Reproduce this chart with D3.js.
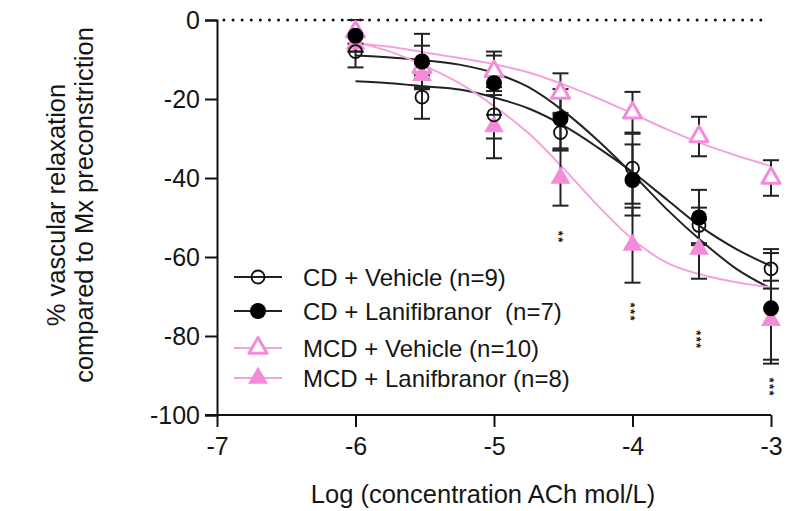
<!DOCTYPE html>
<html>
<head>
<meta charset="utf-8">
<script src="https://cdn.jsdelivr.net/npm/d3@7"></script>
<style>
  body { margin: 0; background: #fff; }
  svg text { font-family: "Liberation Sans", Arial, Helvetica, sans-serif; fill: #161616; }
</style>
</head>
<body>
<script>
// doses (log mol/L) and values
const doses = [-6, -5.52, -5, -4.52, -4, -3.52, -3];

const cdVehMean = [-8, -19.5, -24, -28.5, -37.5, -52, -63];
const cdVehSem = [4, 5.5, 6, 4.5, 9, 4.5, 5];
const cdLaniMean = [-4, -10.5, -16, -25, -40.5, -50, -73];
const cdLaniSem = [4, 7, 8, 7.5, 9, 7, 14];
const mcdVehMean = [-3, -12, -13, -18.5, -23.5, -29.5, -40];
const mcdVehSem = [3, 5.5, 4, 5, 5.3, 5, 4.5];
const mcdLaniMean = [-6, -14, -27, -40, -57, -58, -76];
const mcdLaniSem = [2, 3, 8, 7, 9.5, 7.5, 10];

// fitted curves
const curveX = [-6, -5.75, -5.5, -5.25, -5, -4.75, -4.5, -4.25, -4, -3.75, -3.5, -3.25, -3];
const cdVehCurve = [-15.5, -16, -16.8, -17.6, -19.6, -22.4, -26.7, -32.3, -38.5, -45.5, -52.5, -58, -62.3];
const cdLaniCurve = [-9, -9.5, -10.2, -11.3, -13.4, -17, -23, -30.5, -39, -48, -56, -63, -68];
const mcdVehCurve = [-5.8, -6.8, -8.2, -9.6, -11.2, -13.3, -16.3, -19.8, -23.7, -27.7, -31.3, -34.3, -37];
const mcdLaniCurve = [-5.6, -8, -11.6, -16, -21.8, -28.7, -37.5, -47, -55.5, -61.5, -64.5, -66.4, -67.7];

const seriesNames = ["CD + Vehicle (n=9)", "CD + Lanifibranor  (n=7)", "MCD + Vehicle (n=10)", "MCD + Lanifbranor (n=8)"];

const sigDoses = [-4.52, -4, -3.52, -3];
const sigLevel = [-55, -74, -81, -93];
const sigLabels = ["**", "***", "***", "***"];

const xTicks = [-7, -6, -5, -4, -3];
const yTicks = [0, -20, -40, -60, -80, -100];

const width = 791, height = 511;
const pink = "#f38bd8", pinkLine = "#f4a2de";

const svg = d3.select("body").append("svg")
    .attr("width", width)
    .attr("height", height);

const x = d3.scaleLinear().domain([-7, -3]).range([217, 771]);
const y = d3.scaleLinear().domain([-100, 0]).range([415, 20]);

// series table built from the arrays above
const series = [
  {name: seriesNames[0], mean: cdVehMean, sem: cdVehSem, curve: cdVehCurve, color: "#111", line: "#222", shape: "circle", filled: false},
  {name: seriesNames[1], mean: cdLaniMean, sem: cdLaniSem, curve: cdLaniCurve, color: "#000", line: "#222", shape: "circle", filled: true},
  {name: seriesNames[2], mean: mcdVehMean, sem: mcdVehSem, curve: mcdVehCurve, color: pink, line: pinkLine, shape: "triangle", filled: false},
  {name: seriesNames[3], mean: mcdLaniMean, sem: mcdLaniSem, curve: mcdLaniCurve, color: pink, line: pinkLine, shape: "triangle", filled: true}
];

// axes
const xAxis = d3.axisBottom(x).tickValues(xTicks).tickSize(12).tickPadding(10).tickFormat(d => String(d));
const yAxis = d3.axisLeft(y).tickValues(yTicks).tickSize(12).tickPadding(5).tickFormat(d => String(d));

const gx = svg.append("g").attr("transform", "translate(0," + y(-100) + ")").call(xAxis);
const gy = svg.append("g").attr("transform", "translate(" + x(-7) + ",0)").call(yAxis);
[gx, gy].forEach(g => {
  g.select(".domain").attr("stroke", "#111").attr("stroke-width", 2);
  g.selectAll(".tick line").attr("stroke", "#111").attr("stroke-width", 2);
  g.selectAll(".tick text").attr("font-size", 25).attr("font-family", null).attr("fill", "#161616");
});
gx.select(".domain").attr("d", "M" + (x(-7) - 12) + ",0H" + x(-3));

// dotted zero line
svg.append("line")
    .attr("x1", x(-6.95)).attr("x2", x(-3.02))
    .attr("y1", y(0)).attr("y2", y(0))
    .attr("stroke", "#111").attr("stroke-width", 3)
    .attr("stroke-linecap", "round")
    .attr("stroke-dasharray", "0 9.1");

// axis titles
svg.append("text")
    .attr("x", 483).attr("y", 494)
    .attr("text-anchor", "middle").attr("dominant-baseline", "central")
    .attr("font-size", 25.5)
    .text("Log (concentration ACh mol/L)");

const yt = svg.append("text")
    .attr("transform", "translate(72,205) rotate(-90)")
    .attr("text-anchor", "middle").attr("font-size", 25.5);
yt.append("tspan").attr("x", 0).attr("dy", -7).text("% vascular relaxation");
yt.append("tspan").attr("x", 0).attr("dy", 28).text("compared to Mx preconstriction");

// fitted curves
const line = d3.line().x((d, i) => x(curveX[i])).y(d => y(d)).curve(d3.curveMonotoneX);
series.forEach(s => {
  svg.append("path")
      .datum(s.curve)
      .attr("fill", "none")
      .attr("stroke", s.line)
      .attr("stroke-width", 2)
      .attr("d", line);
});

// error bars
const cap = 8;
series.forEach(s => {
  const g = svg.append("g").attr("stroke", "#222").attr("stroke-width", 2);
  doses.forEach((d, i) => {
    const cx = x(d), y1 = y(s.mean[i] + s.sem[i]), y2 = y(s.mean[i] - s.sem[i]);
    g.append("line").attr("x1", cx).attr("x2", cx).attr("y1", y1).attr("y2", y2);
    g.append("line").attr("x1", cx - cap).attr("x2", cx + cap).attr("y1", y1).attr("y2", y1);
    g.append("line").attr("x1", cx - cap).attr("x2", cx + cap).attr("y1", y2).attr("y2", y2);
  });
});

// markers
function drawMarker(g, s, cx, cy) {
  if (s.shape === "circle") {
    g.append("circle")
        .attr("cx", cx).attr("cy", cy)
        .attr("r", s.filled ? 8 : 6.5)
        .attr("fill", s.filled ? s.color : "none")
        .attr("stroke", s.color)
        .attr("stroke-width", s.filled ? 0 : 1.8);
  } else {
    g.append("path")
        .attr("transform", "translate(" + cx + "," + cy + ")")
        .attr("d", d3.symbol(d3.symbolTriangle, s.filled ? 170 : 140)())
        .attr("fill", s.filled ? s.color : "#fff")
        .attr("stroke", s.color)
        .attr("stroke-width", s.filled ? 0 : 3)
        .attr("stroke-linejoin", "round");
  }
}
const drawOrder = [2, 3, 0, 1];
drawOrder.forEach(k => {
  const s = series[k];
  const g = svg.append("g");
  doses.forEach((d, i) => drawMarker(g, s, x(d), y(s.mean[i])));
});

// significance stars, drawn as one rotated text each so they stack vertically
const starSize = 13;
sigDoses.forEach((d, i) => {
  const n = sigLabels[i].length;
  const top = y(sigLevel[i]) - n * 6.5 / 2;
  svg.append("text")
      .attr("transform", "translate(" + (x(d) - 0.5 * starSize) + "," + top + ") rotate(90)")
      .attr("font-size", starSize)
      .attr("font-weight", "bold")
      .attr("letter-spacing", 1.4)
      .attr("fill", "#1b1b2b")
      .text(sigLabels[i]);
});

// legend
const legendRows = [277, 311, 348, 378];
series.forEach((s, i) => {
  const ly = legendRows[i];
  const g = svg.append("g");
  g.append("line")
      .attr("x1", 234).attr("x2", 282)
      .attr("y1", ly).attr("y2", ly)
      .attr("stroke", s.line).attr("stroke-width", 2);
  drawMarker(g, s, 258, ly);
  g.append("text")
      .attr("x", 303).attr("y", ly)
      .attr("dominant-baseline", "central")
      .attr("font-size", 24)
      .style("white-space", "pre")
      .text(s.name);
});
</script>
</body>
</html>
